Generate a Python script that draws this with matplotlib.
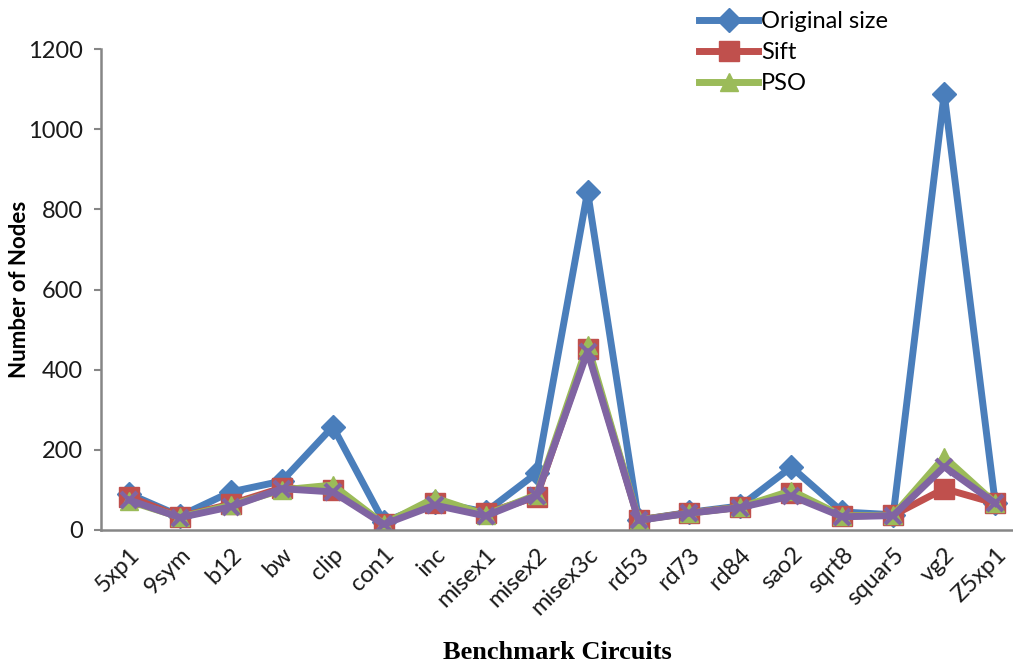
import matplotlib.pyplot as plt
import numpy as np

# benchmark circuits and node counts per method
circuits = ["5xp1", "9sym", "b12", "bw", "clip", "con1", "inc", "misex1", "misex2",
            "misex3c", "rd53", "rd73", "rd84", "sao2", "sqrt8", "squar5", "vg2", "Z5xp1"]
original = [90, 35, 95, 122, 258, 20, 70, 45, 142, 844, 25, 44, 60, 157, 45, 38, 1088, 68]
sift = [83, 33, 65, 105, 100, 15, 67, 42, 83, 452, 25, 43, 57, 92, 35, 37, 103, 67]
pso = [72, 32, 62, 100, 112, 15, 80, 38, 88, 462, 25, 42, 57, 98, 35, 37, 182, 67]
other = [75, 31, 58, 103, 95, 14, 62, 35, 86, 445, 24, 42, 56, 85, 33, 36, 158, 67]

plt.rcParams['font.family'] = ['Lato', 'DejaVu Sans']

fig = plt.figure(figsize=(10.13, 6.66), dpi=100)
ax = fig.add_axes([101 / 1013, 1 - 530 / 666, 1 - 101 / 1013, (530 - 49) / 666])

x = np.arange(len(circuits))
l1, = ax.plot(x, original, color='#4A7EBB', lw=5, marker='D', ms=12, label='Original size')
l2, = ax.plot(x, sift, color='#C0504D', lw=5, marker='s', ms=15, label='Sift')
l3, = ax.plot(x, pso, color='#9BBB59', lw=5, marker='^', ms=13, label='PSO')
ax.plot(x, other, color='#8064A2', lw=5, marker='x', ms=11, mew=3)

ax.set_ylim(0, 1200)
ax.set_yticks(range(0, 1201, 200))
ax.set_xlim(-0.55, 17.35)
ax.set_xticks(x)
ax.set_xticklabels(circuits, rotation=45, ha='right', va='top', rotation_mode='anchor',
                   fontsize=17, color='#1a1a1a')
ax.tick_params(axis='x', length=0, pad=10)
ax.tick_params(axis='y', length=5, width=1.5, color='#868686', labelsize=17,
               labelcolor='#1a1a1a', pad=8)

for s in ['top', 'right']:
    ax.spines[s].set_visible(False)
for s in ['left', 'bottom']:
    ax.spines[s].set_color('#868686')
    ax.spines[s].set_linewidth(1.8)

ax.set_ylabel('Number of Nodes', fontsize=16, fontweight='bold', va='center')
ax.yaxis.set_label_coords(-81 / 912, 0.5)
ax.set_xlabel('Benchmark Circuits', fontsize=19, fontweight='bold',
              family='Liberation Serif', labelpad=16)

fig.legend(handles=[l1, l2, l3], loc='upper left', bbox_to_anchor=(690 / 1013, 1 - 2 / 666),
           frameon=False, fontsize=17, handlelength=2.5, handletextpad=0.1,
           labelspacing=0.42, borderaxespad=0)

fig.savefig('out.png', dpi=100)
